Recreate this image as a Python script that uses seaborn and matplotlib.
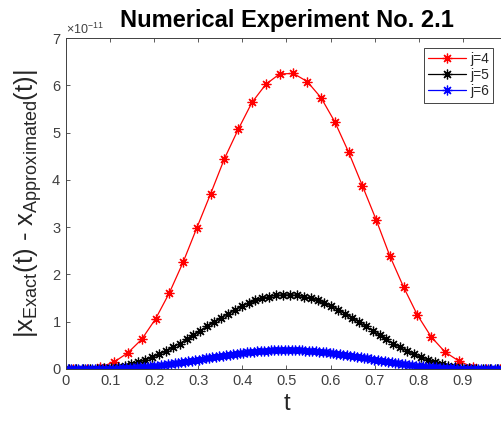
import numpy as np
import matplotlib
matplotlib.use("Agg")
import matplotlib.pyplot as plt
import seaborn as sns
from matplotlib.ticker import ScalarFormatter

sns.set_theme(style="ticks")
plt.rcParams["font.family"] = ["Liberation Sans", "DejaVu Sans"]
plt.rcParams["mathtext.default"] = "regular"

# sample points of each resolution (cell midpoints)
t_j4 = (np.arange(32) + 0.5) / 32
t_j5 = (np.arange(64) + 0.5) / 64
t_j6 = (np.arange(128) + 0.5) / 128

# errors, in units of 1e-11
err_j4 = [0.00, 0.01, 0.04, 0.15, 0.345, 0.63, 1.06, 1.61, 2.26, 2.99, 3.71, 4.45,
          5.07, 5.64, 6.02, 6.24, 6.25, 6.08, 5.74, 5.23, 4.59, 3.88, 3.16, 2.39,
          1.73, 1.14, 0.68, 0.36, 0.17, 0.04, 0.01, 0.00]

err_j5 = [0.000, 0.000, 0.001, 0.003, 0.007, 0.015, 0.028, 0.046, 0.071, 0.103,
          0.142, 0.190, 0.245, 0.309, 0.379, 0.456, 0.539, 0.626, 0.717, 0.810,
          0.903, 0.995, 1.085, 1.172, 1.252, 1.327, 1.393, 1.449, 1.496, 1.532,
          1.556, 1.568,
          1.568, 1.556, 1.532, 1.496, 1.449, 1.393, 1.327, 1.252, 1.172, 1.085,
          0.995, 0.903, 0.810, 0.717, 0.626, 0.539, 0.456, 0.379, 0.309, 0.245,
          0.190, 0.142, 0.103, 0.071, 0.046, 0.028, 0.015, 0.007, 0.003, 0.001,
          0.000, 0.000]

err_j6 = [0.000, 0.000, 0.000, 0.000, 0.000, 0.000, 0.001, 0.001, 0.002, 0.002,
          0.003, 0.005, 0.006, 0.008, 0.010, 0.013, 0.016, 0.020, 0.024, 0.028,
          0.034, 0.039, 0.045, 0.052, 0.059, 0.066, 0.074, 0.083, 0.092, 0.101,
          0.111, 0.121, 0.132, 0.143, 0.154, 0.165, 0.177, 0.189, 0.200, 0.212,
          0.224, 0.236, 0.248, 0.259, 0.271, 0.282, 0.293, 0.304, 0.314, 0.324,
          0.333, 0.342, 0.351, 0.359, 0.366, 0.373, 0.379, 0.384, 0.388, 0.392,
          0.395, 0.398, 0.399, 0.400,
          0.400, 0.399, 0.398, 0.395, 0.392, 0.388, 0.384, 0.379, 0.373, 0.366,
          0.359, 0.351, 0.342, 0.333, 0.324, 0.314, 0.304, 0.293, 0.282, 0.271,
          0.259, 0.248, 0.236, 0.224, 0.212, 0.200, 0.189, 0.177, 0.165, 0.154,
          0.143, 0.132, 0.121, 0.111, 0.101, 0.092, 0.083, 0.074, 0.066, 0.059,
          0.052, 0.045, 0.039, 0.034, 0.028, 0.024, 0.020, 0.016, 0.013, 0.010,
          0.008, 0.006, 0.005, 0.003, 0.002, 0.002, 0.001, 0.001, 0.000, 0.000,
          0.000, 0.000, 0.000, 0.000]

series = [("j=4", t_j4, err_j4, "#ff0000"),
          ("j=5", t_j5, err_j5, "#000000"),
          ("j=6", t_j6, err_j6, "#0000ff")]

fig = plt.figure(figsize=(5.02, 4.21), dpi=100)
ax = fig.add_axes([66 / 502, 52 / 421, 441 / 502, 331 / 421])

star = (8, 2, 0)
for name, t, err, col in series:
    sns.lineplot(x=t, y=np.array(err) * 1e-11, ax=ax, color=col, lw=0.9,
                 marker=star, markersize=7, markeredgecolor=col, mew=0.9,
                 label=name)

ax.set_xlim(0, 1)
ax.set_ylim(0, 7e-11)
ax.set_xticks(np.arange(0, 1.01, 0.1))
# the "1" label falls outside the cropped picture
ax.set_xticklabels(["0", "0.1", "0.2", "0.3", "0.4", "0.5", "0.6", "0.7", "0.8", "0.9", ""])
ax.set_yticks(np.arange(0, 8) * 1e-11)
fmt = ScalarFormatter(useMathText=True)
ax.yaxis.set_major_formatter(fmt)

grey = "#404040"
ax.tick_params(direction="in", length=3, width=0.6, colors=grey, labelsize=10.5,
               top=True, right=True)
ax.yaxis.get_offset_text().set_fontsize(9)
ax.yaxis.get_offset_text().set_color(grey)
for s in ax.spines.values():
    s.set_color(grey)
    s.set_linewidth(0.7)

ax.set_title("Numerical Experiment No. 2.1", fontsize=17, fontweight="bold",
             color="black", pad=8)
ax.set_xlabel("t", fontsize=17, color="#262626", labelpad=4)
ax.set_ylabel("|x$_{Exact}$(t) - x$_{Approximated}$(t)|", fontsize=18.5,
              color="#262626", labelpad=5)

leg = ax.legend(loc="upper right", bbox_to_anchor=(493 / 502, 1 - 48 / 421),
                bbox_transform=fig.transFigure, borderaxespad=0, fontsize=10,
                fancybox=False, framealpha=1, edgecolor="#262626",
                handlelength=2.7, handletextpad=0.3, labelspacing=0.15,
                borderpad=0.3)
leg.get_frame().set_linewidth(0.6)

fig.savefig("out.png", dpi=100)
